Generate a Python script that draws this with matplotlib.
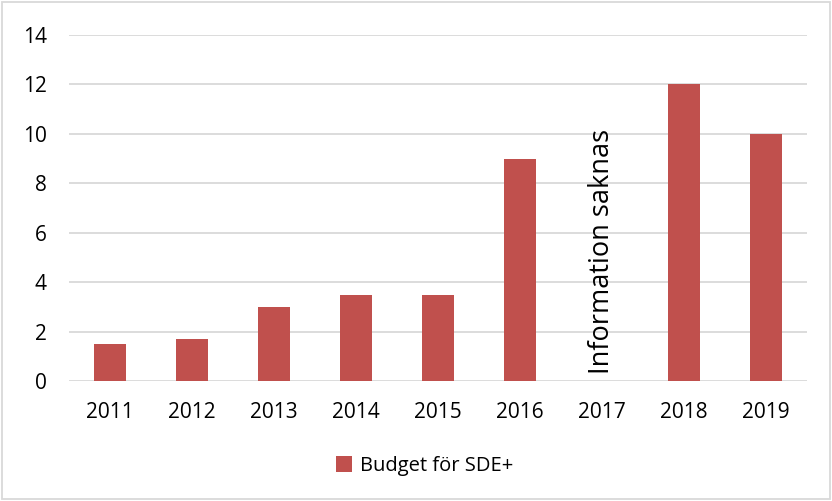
import numpy as np
import matplotlib.pyplot as plt
from matplotlib.patches import Rectangle

plt.rcParams['font.family'] = ['Open Sans', 'DejaVu Sans']

years = ['2011', '2012', '2013', '2014', '2015', '2016', '2017', '2018', '2019']
budget = [1.5, 1.7, 3.0, 3.5, 3.5, 9.0, np.nan, 12.0, 10.0]
missing_label = 'Information saknas'
series_name = 'Budget för SDE+'
bar_color = '#c0504d'

fig = plt.figure(figsize=(8.32, 5.01), dpi=100)
ax = fig.add_axes([0.083, 0.2395, 0.887, 0.6905])

x = np.arange(len(years))
vals = np.nan_to_num(budget)
ax.bar(x, vals, width=0.4, color=bar_color, label=series_name, zorder=3)

ax.set_xlim(-0.5, len(years) - 0.5)
ax.set_ylim(0, 14)
ax.set_yticks(range(0, 15, 2))
ax.set_xticks(x)
ax.set_xticklabels(years)
ax.yaxis.grid(True, color='#d9d9d9', linewidth=1.3, zorder=0)
ax.tick_params(length=0, labelsize=15, colors='black')
ax.tick_params(axis='y', pad=16)
ax.tick_params(axis='x', pad=15)
for s in ax.spines.values():
    s.set_visible(False)

# note for the missing year
i = years.index('2017')
ax.text(x[i], 0.3, missing_label, rotation=90, ha='center', va='bottom', fontsize=19.5)

leg = fig.legend(loc='center', bbox_to_anchor=(0.51, 0.07), frameon=False,
                 fontsize=14.5, handlelength=0.8, handleheight=0.8, handletextpad=0.4)

fig.patches.append(Rectangle((0.003, 0.003), 0.994, 0.994, transform=fig.transFigure,
                             fill=False, edgecolor='#d9d9d9', linewidth=1.3))

fig.savefig('out.png', dpi=100)
